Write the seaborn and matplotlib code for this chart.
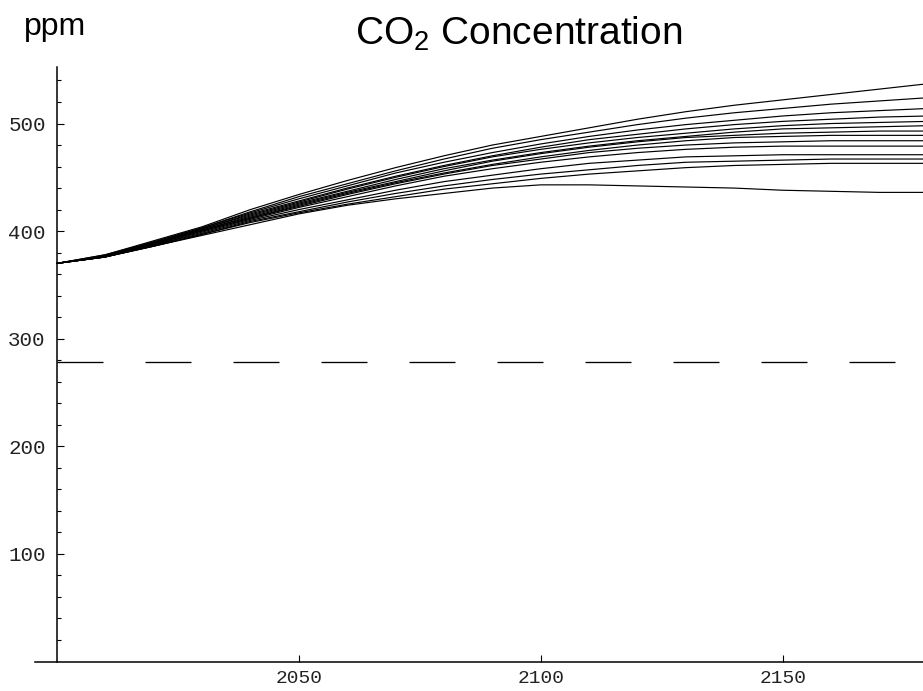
import matplotlib
matplotlib.use("Agg")
import matplotlib.pyplot as plt
import numpy as np
import pandas as pd
import seaborn as sns

# Years sampled for every scenario
years = [2000, 2010, 2020, 2030, 2040, 2050, 2060, 2070, 2080, 2090,
         2100, 2110, 2120, 2130, 2140, 2150, 2160, 2170, 2180]

# Atmospheric CO2 (ppm) for each emission scenario
s01 = [370, 378, 391, 404, 420, 434, 447, 459, 470, 480, 488, 496, 504, 511, 517, 522, 527, 532, 537]
s02 = [370, 378, 390, 403, 418, 432, 444, 456, 467, 477, 485, 492, 499, 505, 510, 514, 518, 521, 524]
s03 = [370, 377, 390, 403, 417, 430, 442, 454, 464, 473, 481, 488, 494, 499, 503, 507, 510, 512, 514]
s04 = [370, 377, 389, 402, 416, 428, 440, 451, 461, 470, 478, 485, 490, 495, 499, 502, 504, 506, 507]
s05 = [370, 377, 389, 402, 415, 427, 439, 450, 460, 469, 476, 482, 487, 491, 495, 498, 500, 501, 502]
s06 = [370, 377, 389, 401, 414, 426, 437, 448, 458, 466, 473, 479, 484, 488, 492, 495, 496, 497, 498]
s07 = [370, 377, 388, 401, 413, 425, 436, 446, 456, 465, 472, 478, 483, 487, 489, 491, 492, 493, 493]
s08 = [370, 376, 388, 400, 412, 424, 435, 445, 454, 462, 469, 475, 480, 484, 487, 488, 489, 489, 489]
s09 = [370, 376, 388, 400, 412, 423, 434, 444, 453, 461, 467, 473, 477, 480, 482, 483, 484, 484, 484]
s10 = [370, 376, 387, 399, 411, 422, 432, 442, 451, 458, 464, 469, 473, 476, 478, 479, 479, 479, 479]
s11 = [370, 376, 387, 398, 410, 420, 429, 438, 446, 452, 458, 463, 466, 469, 470, 471, 471, 471, 471]
s12 = [370, 376, 386, 397, 409, 418, 427, 435, 442, 448, 453, 457, 461, 464, 465, 466, 467, 467, 467]
s13 = [370, 376, 386, 397, 408, 417, 425, 432, 439, 444, 449, 453, 456, 459, 461, 462, 463, 463, 463]
s14 = [370, 376, 386, 396, 406, 416, 424, 430, 435, 440, 443, 443, 442, 441, 440, 438, 437, 436, 436]

scenarios = [s01, s02, s03, s04, s05, s06, s07, s08, s09, s10, s11, s12, s13, s14]
scenario_names = [f"S{i + 1:02d}" for i in range(len(scenarios))]

# Pre-industrial reference level
preindustrial = 278

y_ticks = [100, 200, 300, 400, 500]
x_ticks = [2050, 2100, 2150]

frames = [pd.DataFrame({"year": years, "ppm": vals, "scenario": name})
          for name, vals in zip(scenario_names, scenarios)]
df = pd.concat(frames, ignore_index=True)

sns.set_style("ticks")
plt.rcParams["font.family"] = ["Liberation Sans", "DejaVu Sans"]
plt.rcParams["mathtext.fontset"] = "custom"
plt.rcParams["mathtext.rm"] = "Liberation Sans"
plt.rcParams["mathtext.it"] = "Liberation Sans:italic"

W, H = 923, 691
fig = plt.figure(figsize=(W / 100, H / 100), dpi=100)
ax = fig.add_axes([35 / W, (H - 661.5) / H, (W - 35) / W, (661.5 - 66.5) / H])

sns.lineplot(data=df, x="year", y="ppm", units="scenario", estimator=None,
             color="black", linewidth=0.85, ax=ax, legend=False)

# Long-dash reference line; dash pattern is in multiples of the line width
ref_lw = 0.95
ax.hlines(preindustrial, 2000, 2180, colors="black", linewidth=ref_lw,
          linestyles=(0, (46 * 0.72 / ref_lw, 42 * 0.72 / ref_lw)))

ax.set_xlim(1995.5, 2179)
ax.set_ylim(0, 553)

for side in ("top", "right"):
    ax.spines[side].set_visible(False)
ax.spines["left"].set_position(("data", 2000))
ax.spines["bottom"].set_position(("data", 0))
for side in ("left", "bottom"):
    ax.spines[side].set_linewidth(1.1)
    ax.spines[side].set_color("black")

ax.set_xticks(x_ticks)
ax.set_yticks(y_ticks)
ax.set_yticks(np.arange(20, 553, 20), minor=True)
ax.set_xticklabels([str(t) for t in x_ticks])
ax.set_yticklabels([str(t) for t in y_ticks])

ax.tick_params(axis="both", which="major", direction="in", length=5, width=0.8,
               colors="black", labelsize=15)
ax.tick_params(axis="y", which="minor", direction="in", length=3, width=0.8,
               colors="black")
ax.tick_params(axis="y", which="major", pad=8)
ax.tick_params(axis="x", which="major", pad=6, labelsize=14)
for lab in ax.get_xticklabels() + ax.get_yticklabels():
    lab.set_family(["Liberation Mono", "DejaVu Sans Mono"])
    lab.set_color("#222222")

ax.set_xlabel("")
ax.set_ylabel("")

fig.text(519 / W, 1 - 45 / H, r"CO$_\mathrm{2}$ Concentration", ha="center",
         va="baseline", fontsize=28, color="black")
fig.text(24 / W, 1 - 35 / H, "ppm", ha="left", va="baseline", fontsize=23,
         color="black")

fig.savefig("out.png", dpi=100)
